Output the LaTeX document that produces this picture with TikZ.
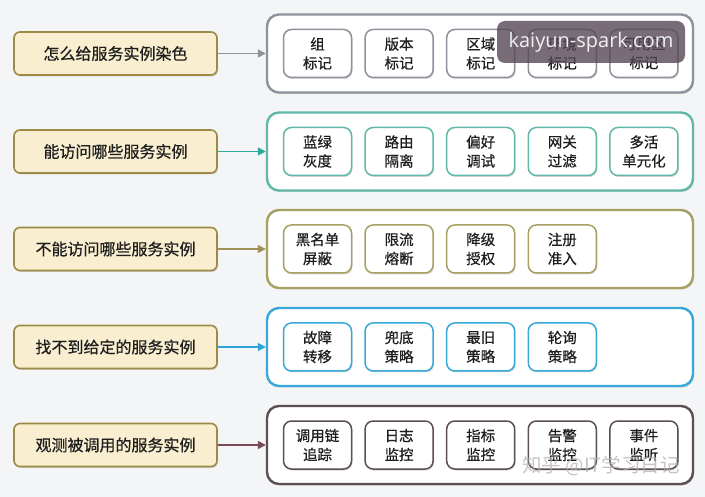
\documentclass[tikz,border=0pt]{standalone}
\usepackage{fontspec}
\setmainfont{Noto Sans CJK SC}[FakeBold=0.6]
\newfontfamily\wmfont{Noto Sans CJK SC}
\newfontfamily\latinfont{Open Sans}
\usetikzlibrary{shadows,arrows.meta}
\definecolor{bgcol}{HTML}{F4F5F6}
\definecolor{leftfill}{HTML}{F9EFD0}
\definecolor{leftborder}{HTML}{9C8A45}
\definecolor{rowA}{HTML}{8C939B}
\definecolor{rowB}{HTML}{62B8A8}
\definecolor{rowC}{HTML}{A6A061}
\definecolor{rowD}{HTML}{38A8D8}
\definecolor{rowE}{HTML}{5B4E55}
\definecolor{arrA}{HTML}{8C939B}
\definecolor{arrB}{HTML}{2FA898}
\definecolor{arrC}{HTML}{A0925A}
\definecolor{arrD}{HTML}{2EA6DA}
\definecolor{arrE}{HTML}{7A4A5A}
\definecolor{txt}{HTML}{1E1E1E}
\definecolor{wmbox}{HTML}{564857}
\begin{document}
\begin{tikzpicture}[x=1pt,y=-1pt,
  softshadow/.style={drop shadow={shadow xshift=1pt,shadow yshift=-1.5pt,opacity=0.25,fill=black!60}},
  leftbox/.style={draw=leftborder, fill=leftfill, line width=1.6pt, rounded corners=6pt,
    minimum width=203pt, minimum height=43pt, inner sep=0pt, text=txt,
    font=\fontsize{16}{19}\selectfont, softshadow},
  container/.style={draw=#1, line width=2.4pt, fill=white, rounded corners=12pt,
    minimum width=426pt, minimum height=78pt, inner sep=0pt, softshadow},
  ibox/.style={draw=#1, line width=1.5pt, fill=white, rounded corners=8pt,
    minimum width=68pt, minimum height=48pt, inner sep=0pt, align=center, text=txt,
    font=\fontsize{14.5}{19}\selectfont, softshadow},
  conn/.style={draw=#1, line width=1.5pt, -{Triangle[length=8pt,width=8pt]}}
]
\useasboundingbox (0,0) rectangle (705,497);
\fill[bgcol] (0,0) rectangle (705,497);

% left boxes
\node[leftbox] (L1) at (115.5,53.5) {怎么给服务实例染色};
\node[leftbox] (L2) at (115.5,151.5) {能访问哪些服务实例};
\node[leftbox] (L3) at (115.5,249) {不能访问哪些服务实例};
\node[leftbox] (L4) at (115.5,347) {找不到给定的服务实例};
\node[leftbox] (L5) at (115.5,445) {观测被调用的服务实例};

% containers
\node[container=rowA] (C1) at (480,53.5) {};
\node[container=rowB] (C2) at (480,151.5) {};
\node[container=rowC] (C3) at (480,249) {};
\node[container=rowD] (C4) at (480,347) {};
\node[container=rowE] (C5) at (480,445) {};

% connectors
\draw[conn=arrA] (L1.east) -- (C1.west);
\draw[conn=arrB] (L2.east) -- (C2.west);
\draw[conn=arrC] (L3.east) -- (C3.west);
\draw[conn=arrD] (L4.east) -- (C4.west);
\draw[conn=arrE] (L5.east) -- (C5.west);

% row 1
\node[ibox=rowA] (B11) at (317.5,53.5) {组\\标记};
\node[ibox=rowA] (B12) at (399.1,53.5) {版本\\标记};
\node[ibox=rowA] (B13) at (480.7,53.5) {区域\\标记};
\node[ibox=rowA] (B14) at (562.3,53.5) {环境\\标记};
\node[ibox=rowA] (B15) at (643.9,53.5) {可用区\\标记};
% row 2
\node[ibox=rowB] (B21) at (317.5,151.5) {蓝绿\\灰度};
\node[ibox=rowB] (B22) at (399.1,151.5) {路由\\隔离};
\node[ibox=rowB] (B23) at (480.7,151.5) {偏好\\调试};
\node[ibox=rowB] (B24) at (562.3,151.5) {网关\\过滤};
\node[ibox=rowB] (B25) at (643.9,151.5) {多活\\单元化};
% row 3
\node[ibox=rowC] (B31) at (317.5,249) {黑名单\\屏蔽};
\node[ibox=rowC] (B32) at (399.1,249) {限流\\熔断};
\node[ibox=rowC] (B33) at (480.7,249) {降级\\授权};
\node[ibox=rowC] (B34) at (562.3,249) {注册\\准入};
% row 4
\node[ibox=rowD] (B41) at (317.5,347) {故障\\转移};
\node[ibox=rowD] (B42) at (399.1,347) {兜底\\策略};
\node[ibox=rowD] (B43) at (480.7,347) {最旧\\策略};
\node[ibox=rowD] (B44) at (562.3,347) {轮询\\策略};
% row 5
\node[ibox=rowE] (B51) at (317.5,445) {调用链\\追踪};
\node[ibox=rowE] (B52) at (399.1,445) {日志\\监控};
\node[ibox=rowE] (B53) at (480.7,445) {指标\\监控};
\node[ibox=rowE] (B54) at (562.3,445) {告警\\监控};
\node[ibox=rowE] (B55) at (643.9,445) {事件\\监听};

% watermarks
\node[fill=wmbox, fill opacity=0.8, text opacity=1, rounded corners=8pt,
      minimum width=188pt, minimum height=42pt, inner sep=0pt,
      text=white!88!gray, font=\latinfont\fontsize{20}{22}\selectfont] (WM1) at (591,42) {kaiyun-spark.com};
\node[text=gray!60, text opacity=0.75, inner sep=0pt,
      font=\wmfont\fontsize{19.5}{22}\selectfont] (WM2) at (601,466) {知乎 @IT学习日记};
\end{tikzpicture}
\end{document}
